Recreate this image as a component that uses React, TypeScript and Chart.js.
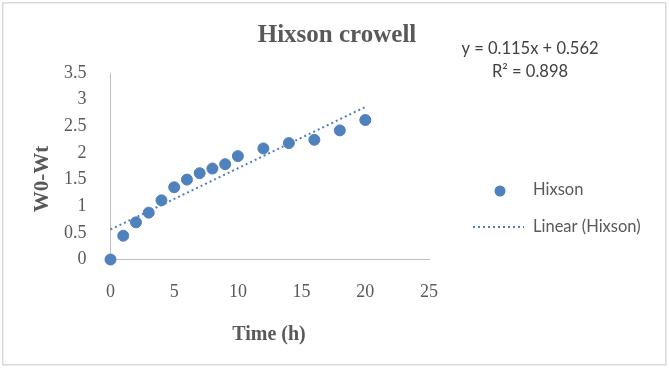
import React, { useEffect, useRef } from "react";
import { Chart, registerables } from "chart.js";

Chart.register(...registerables);

const timeHours = [0, 1, 2, 3, 4, 5, 6, 7, 8, 9, 10, 12, 14, 16, 18, 20];
const hixsonValues = [0, 0.446, 0.697, 0.879, 1.11, 1.356, 1.5, 1.62, 1.707, 1.789, 1.94, 2.084, 2.185, 2.247, 2.423, 2.618];
const trendSlope = 0.115;
const trendIntercept = 0.562;
const trendX = [0, 20];
const equationLines = ["y = 0.115x + 0.562", "R² = 0.898"];
const chartTitle = "Hixson crowell";
const xTitle = "Time (h)";
const yTitle = "W0-Wt";
const seriesName = "Hixson";
const trendName = "Linear (Hixson)";

const BLUE = "#4F81BD";
const SERIF = "'Liberation Serif', 'DejaVu Serif', serif";
const SANS = "Lato, 'Open Sans', 'Liberation Sans', sans-serif";

export default function App() {
  const ref = useRef<HTMLCanvasElement | null>(null);

  useEffect(() => {
    document.body.style.margin = "0";
    const canvas = ref.current;
    if (!canvas) return;

    const decor = {
      id: "decor",
      beforeDraw(chart: any) {
        const ctx = chart.ctx;
        ctx.save();
        ctx.fillStyle = "#ffffff";
        ctx.fillRect(0, 0, chart.width, chart.height);
        ctx.strokeStyle = "#D9D9D9";
        ctx.lineWidth = 1.5;
        ctx.strokeRect(2.75, 2.75, 663, 362);
        ctx.restore();
      },
      afterDraw(chart: any) {
        const ctx = chart.ctx;
        ctx.save();
        ctx.fillStyle = "#595959";
        ctx.textAlign = "center";
        ctx.textBaseline = "alphabetic";
        ctx.font = `bold 25px ${SERIF}`;
        ctx.fillText(chartTitle, 337, 42);
        ctx.font = `bold 20px ${SERIF}`;
        ctx.fillText(xTitle, 269, 340);
        ctx.save();
        ctx.translate(48, 179);
        ctx.rotate(-Math.PI / 2);
        ctx.font = `bold 21px ${SERIF}`;
        ctx.fillText(yTitle, 0, 0);
        ctx.restore();

        ctx.fillStyle = "#404040";
        ctx.textBaseline = "middle";
        ctx.font = `16.5px ${SANS}`;
        ctx.fillText(equationLines[0], 530, 49);
        ctx.fillText(equationLines[1], 530, 72);

        // legend
        ctx.fillStyle = BLUE;
        ctx.beginPath();
        ctx.arc(500, 191, 5.5, 0, Math.PI * 2);
        ctx.fill();
        ctx.strokeStyle = BLUE;
        ctx.lineWidth = 2;
        ctx.setLineDash([2, 3]);
        ctx.beginPath();
        ctx.moveTo(473, 227);
        ctx.lineTo(524, 227);
        ctx.stroke();
        ctx.setLineDash([]);
        ctx.fillStyle = "#595959";
        ctx.textAlign = "left";
        ctx.font = `16.5px ${SANS}`;
        ctx.fillText(seriesName, 533, 190);
        ctx.fillText(trendName, 533, 227);
        ctx.restore();
      },
    };

    const chart = new Chart(canvas, {
      type: "scatter",
      data: {
        datasets: [
          {
            type: "line",
            label: trendName,
            data: trendX.map((x) => ({ x, y: trendSlope * x + trendIntercept })),
            borderColor: BLUE,
            borderWidth: 2,
            borderDash: [2, 3],
            pointRadius: 0,
            fill: false,
            clip: false,
          } as any,
          {
            label: seriesName,
            data: timeHours.map((x, i) => ({ x, y: hixsonValues[i] })),
            backgroundColor: BLUE,
            borderColor: BLUE,
            pointRadius: 5.5,
            pointHoverRadius: 5.5,
            clip: false,
          } as any,
        ],
      },
      options: {
        animation: false,
        responsive: false,
        events: [],
        layout: { padding: { top: 73, right: 240, left: 0, bottom: 0 } },
        plugins: {
          legend: { display: false },
          title: { display: false },
          tooltip: { enabled: false },
        },
        scales: {
          x: {
            type: "linear",
            min: 0,
            max: 25,
            ticks: {
              stepSize: 5,
              padding: 14,
              color: "#595959",
              font: { family: SERIF, size: 18 },
              callback: (v: any) => String(v),
            },
            grid: { display: false },
            border: { display: true, color: "#BFBFBF", width: 1 },
            afterFit(scale: any) {
              scale.height = 369 - 259.5;
            },
          },
          y: {
            min: 0,
            max: 3.5,
            ticks: {
              stepSize: 0.5,
              padding: 16,
              color: "#595959",
              font: { family: SERIF, size: 18 },
              callback: (v: any) => String(v),
            },
            grid: { display: false },
            border: { display: true, color: "#BFBFBF", width: 1 },
            afterFit(scale: any) {
              scale.width = 110.5;
            },
          },
        },
      },
      plugins: [decor],
    } as any);

    return () => chart.destroy();
  }, []);

  return <canvas ref={ref} width={669} height={369} style={{ display: "block" }} />;
}
